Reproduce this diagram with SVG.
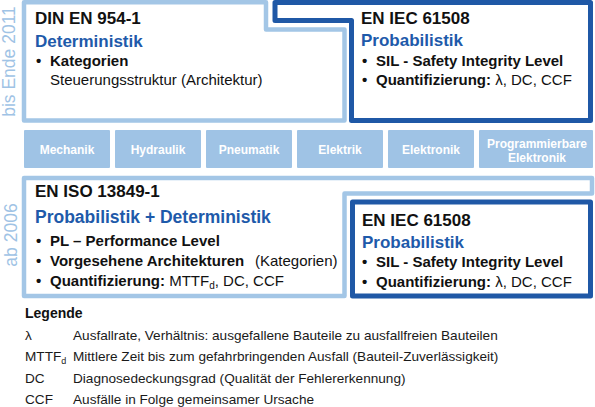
<svg xmlns="http://www.w3.org/2000/svg" width="595" height="407" viewBox="0 0 595 407">
<style>
text{font-family:"Liberation Sans",Arial,sans-serif;fill:#111}
.lf{fill:none;stroke:#a3c6e6;stroke-width:4.5;stroke-linejoin:round}
.df{fill:none;stroke:#1f58a6;stroke-width:5;stroke-linejoin:round}
.box{fill:#9fc3e5}
.bl{font-size:12px;font-weight:bold;fill:#fff;text-anchor:middle}
.t{font-size:17px;font-weight:bold}
.s{font-size:17px;font-weight:bold;fill:#1e5aaa}
.b{font-size:15px;font-weight:bold}
.r{font-weight:normal}
.v{font-size:17.5px;fill:#9fc3e5;text-anchor:middle}
.lg{font-size:13.6px;fill:#1a1a1a}
</style>
<rect width="595" height="407" fill="#fff"/>
<text class="v" transform="translate(15,61.5) rotate(-90)">bis Ende 2011</text>
<text class="v" transform="translate(16.5,235) rotate(-90)">ab 2006</text>
<g id="din-en-954-1">
<polygon class="lf" points="24,2.3 266,2.3 266,29.5 344.5,29.5 344.5,120.5 24,120.5"/>
<text class="t" x="35" y="24">DIN EN 954-1</text>
<text class="s" x="35" y="47">Deterministik</text>
<text class="b" x="36" y="66">•</text>
<text class="b" x="50" y="66">Kategorien</text>
<text class="b r" x="50" y="85">Steuerungsstruktur (Architektur)</text>
</g>
<g id="en-iec-61508-top">
<polygon class="df" points="275,2.5 590.5,2.5 590.5,120.5 351.5,120.5 351.5,20.5 275,20.5"/>
<text class="t" x="361" y="24">EN IEC 61508</text>
<text class="s" x="361" y="46">Probabilistik</text>
<text class="b" x="362" y="66">•</text>
<text class="b" x="376" y="66">SIL - Safety Integrity Level</text>
<text class="b" x="362" y="85">•</text>
<text class="b" x="376" y="85">Quantifizierung:<tspan class="r"> λ, DC, CCF</tspan></text>
</g>
<g id="technologies">
<g id="mechanik"><rect class="box" x="24" y="130" width="86" height="38" rx="1"/><text class="bl" x="67" y="154">Mechanik</text></g>
<g id="hydraulik"><rect class="box" x="115" y="130" width="86" height="38" rx="1"/><text class="bl" x="158" y="154">Hydraulik</text></g>
<g id="pneumatik"><rect class="box" x="206" y="130" width="86" height="38" rx="1"/><text class="bl" x="249" y="154">Pneumatik</text></g>
<g id="elektrik"><rect class="box" x="297" y="130" width="86" height="38" rx="1"/><text class="bl" x="340" y="154">Elektrik</text></g>
<g id="elektronik"><rect class="box" x="388" y="130" width="86" height="38" rx="1"/><text class="bl" x="431" y="154">Elektronik</text></g>
<g id="programmierbare-elektronik"><rect class="box" x="479" y="130" width="114" height="38" rx="1"/><text class="bl" x="537" y="147.5">Programmierbare</text><text class="bl" x="537" y="161.5">Elektronik</text></g>
</g>
<g id="en-iso-13849-1">
<polygon class="lf" points="24,178 592,178 592,193.5 344.5,193.5 344.5,296 24,296"/>
<text class="t" x="35" y="197">EN ISO 13849-1</text>
<text class="s" x="35" y="223" style="font-size:17.5px">Probabilistik + Deterministik</text>
<text class="b" x="36" y="246">•</text>
<text class="b" x="50" y="246">PL – Performance Level</text>
<text class="b" x="36" y="266">•</text>
<text class="b" x="50" y="266">Vorgesehene Architekturen<tspan class="r" x="255">(Kategorien)</tspan></text>
<text class="b" x="36" y="286">•</text>
<text class="b" x="50" y="286">Quantifizierung:<tspan class="r"> MTTF</tspan><tspan class="r" style="font-size:10px" dy="3">d</tspan><tspan class="r" dy="-3">, DC, CCF</tspan></text>
</g>
<g id="en-iec-61508-bottom">
<rect class="df" x="352.5" y="202" width="238" height="94"/>
<text class="t" x="362" y="226">EN IEC 61508</text>
<text class="s" x="362" y="247.5">Probabilistik</text>
<text class="b" x="362" y="267">•</text>
<text class="b" x="376" y="267">SIL - Safety Integrity Level</text>
<text class="b" x="362" y="286.5">•</text>
<text class="b" x="376" y="286.5">Quantifizierung:<tspan class="r"> λ, DC, CCF</tspan></text>
</g>
<g id="legende">
<text x="25" y="318" style="font-size:14px;font-weight:bold">Legende</text>
<text class="lg" x="25" y="339.5">λ</text>
<text class="lg" x="73" y="339.5">Ausfallrate, Verhältnis: ausgefallene Bauteile zu ausfallfreien Bauteilen</text>
<text class="lg" x="25" y="361">MTTF<tspan style="font-size:9px" dy="3">d</tspan></text>
<text class="lg" x="73" y="361">Mittlere Zeit bis zum gefahrbringenden Ausfall (Bauteil-Zuverlässigkeit)</text>
<text class="lg" x="25" y="382.5">DC</text>
<text class="lg" x="73" y="382.5">Diagnosedeckungsgrad (Qualität der Fehlererkennung)</text>
<text class="lg" x="25" y="403.5">CCF</text>
<text class="lg" x="73" y="403.5">Ausfälle in Folge gemeinsamer Ursache</text>
</g>
</svg>
